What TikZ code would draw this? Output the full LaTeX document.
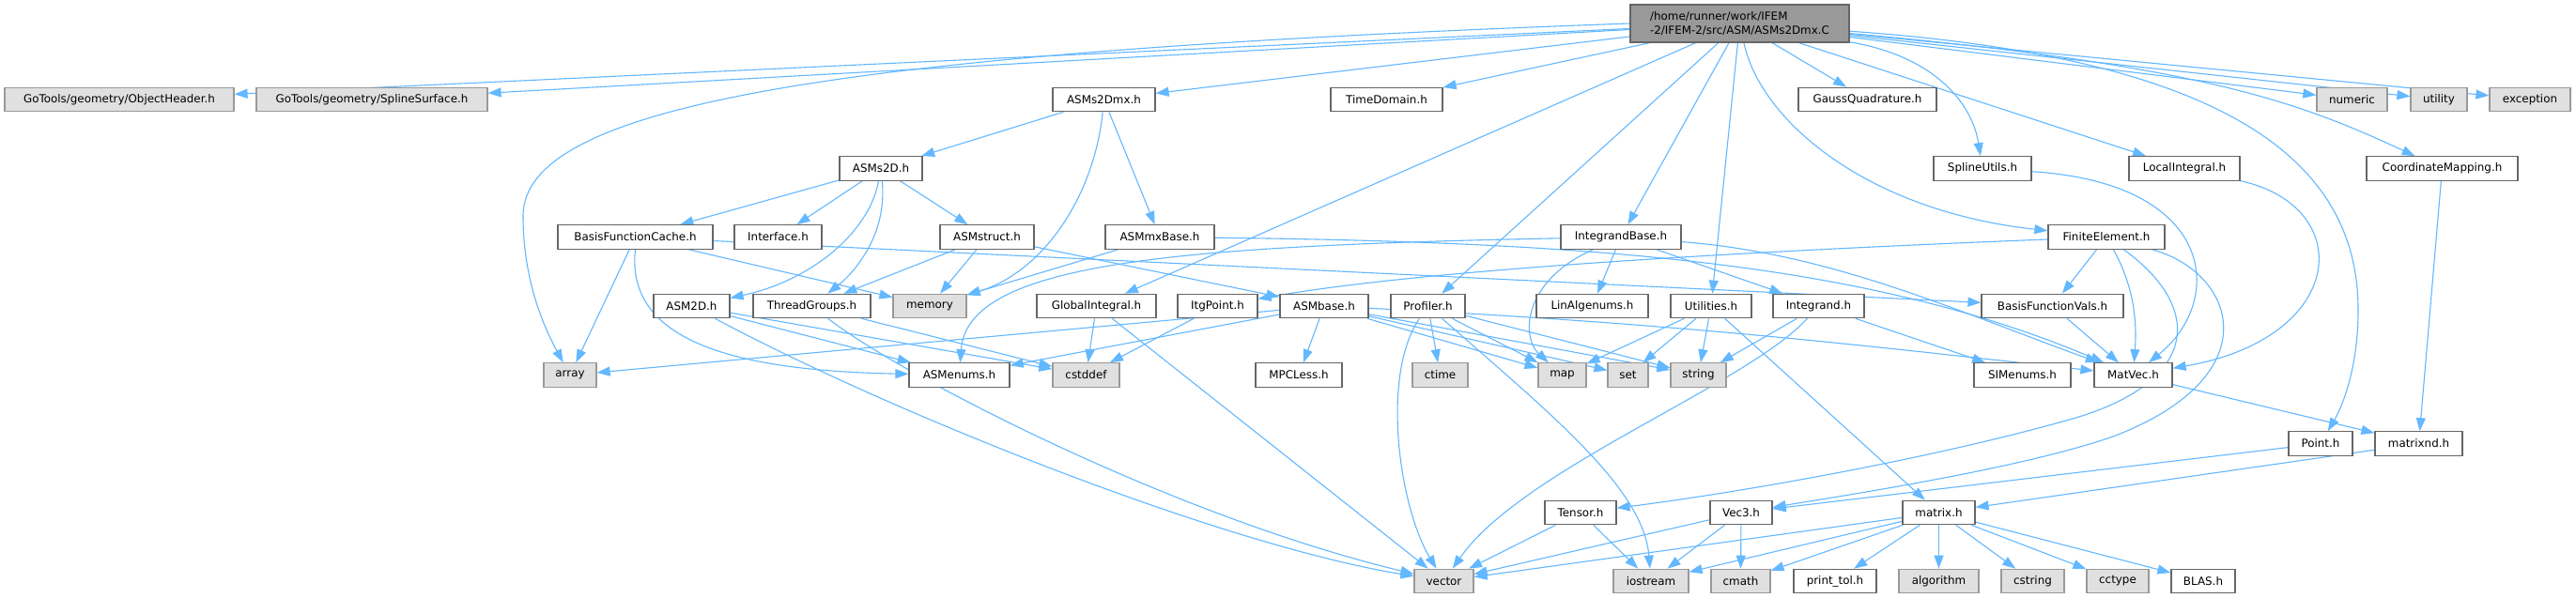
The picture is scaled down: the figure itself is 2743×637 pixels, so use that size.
\documentclass[tikz,border=0pt]{standalone}
\usepackage{fontspec}
\setmainfont{DejaVu Sans}
\usetikzlibrary{arrows.meta}
\definecolor{edgeblue}{RGB}{99,184,255}
\definecolor{boxborder}{RGB}{102,102,102}
\definecolor{grayborder}{RGB}{153,153,153}
\definecolor{grayfill}{RGB}{224,224,224}
\definecolor{rootfill}{RGB}{153,153,153}
\pgfdeclarelayer{edgelayer}
\pgfsetlayers{edgelayer,main}
\begin{document}
\begin{tikzpicture}[x=0.5pt,y=-0.5pt,
  e/.style={draw=edgeblue,line width=0.55pt,-{Triangle[length=7pt,width=5pt]}},
  nb/.style={draw=boxborder,fill=white,line width=0.6pt,minimum height=12.75pt,inner sep=0pt,
     font=\fontsize{5.95pt}{7.4pt}\selectfont},
  ng/.style={nb,draw=grayborder,fill=grayfill}]
\useasboundingbox (0,0) rectangle (2743,637);
% row 0
\node[nb,fill=rootfill,minimum width=116.5pt,minimum height=20pt,align=left] (root) at (1852.5,25) {/home/runner/work/IFEM\\-2/IFEM-2/src/ASM/ASMs2Dmx.C};
% row 1
\node[ng,minimum width=122pt] (objh) at (127,106) {GoTools/geometry/ObjectHeader.h};
\node[ng,minimum width=123pt] (splsurf) at (396,106) {GoTools/geometry/SplineSurface.h};
\node[nb,minimum width=54.5pt] (asms2dmxh) at (1175.5,106) {ASMs2Dmx.h};
\node[nb,minimum width=59.5pt] (timedom) at (1476.5,106) {TimeDomain.h};
\node[nb,minimum width=73.5pt] (gauss) at (1988.5,106) {GaussQuadrature.h};
\node[ng,minimum width=37.5pt] (numeric) at (2504.5,106) {numeric};
\node[ng,minimum width=30pt] (utility) at (2597,106) {utility};
\node[ng,minimum width=43pt] (exception) at (2694,106) {exception};
% row 2
\node[nb,minimum width=44pt] (asms2dh) at (938,179.5) {ASMs2D.h};
\node[nb,minimum width=52pt] (splutils) at (2111,179.5) {SplineUtils.h};
\node[nb,minimum width=59pt] (localint) at (2326,179.5) {LocalIntegral.h};
\node[nb,minimum width=80.5pt] (coordmap) at (2600.5,179.5) {CoordinateMapping.h};
% row 3
\node[nb,minimum width=82.5pt] (bfcache) at (676.5,252.5) {BasisFunctionCache.h};
\node[nb,minimum width=46.5pt] (interface) at (828.5,252.5) {Interface.h};
\node[nb,minimum width=50pt] (asmstruct) at (1051,252.5) {ASMstruct.h};
\node[nb,minimum width=58pt] (asmmxbase) at (1235,252.5) {ASMmxBase.h};
\node[nb,minimum width=64pt] (intbase) at (1726,252.5) {IntegrandBase.h};
\node[nb,minimum width=62pt] (finelem) at (2243,252.5) {FiniteElement.h};
% row 4
\node[nb,minimum width=40.5pt] (asm2d) at (736.5,326) {ASM2D.h};
\node[nb,minimum width=62.5pt] (threadg) at (864.5,326) {ThreadGroups.h};
\node[ng,minimum width=39pt] (memory) at (990,326) {memory};
\node[nb,minimum width=63.5pt] (globint) at (1167.5,326) {GlobalIntegral.h};
\node[nb,minimum width=42.5pt] (itgpoint) at (1296.5,326) {ItgPoint.h};
\node[nb,minimum width=47pt] (asmbase) at (1410,326) {ASMbase.h};
\node[nb,minimum width=39.5pt] (profiler) at (1520.5,326) {Profiler.h};
\node[nb,minimum width=59.5pt] (linalg) at (1695.5,326) {LinAlgenums.h};
\node[nb,minimum width=43pt] (utilities) at (1822,326) {Utilities.h};
\node[nb,minimum width=48.5pt] (integrand) at (1936.5,326) {Integrand.h};
\node[nb,minimum width=75.5pt] (bfvals) at (2185.5,326) {BasisFunctionVals.h};
% row 5
\node[ng,minimum width=28pt] (array) at (607,399.5) {array};
\node[nb,minimum width=53.5pt] (asmenums) at (1021.5,399.5) {ASMenums.h};
\node[ng,minimum width=35.5pt] (cstddef) at (1156.5,399.5) {cstddef};
\node[nb,minimum width=46pt] (mpcless) at (1383,399.5) {MPCLess.h};
\node[ng,minimum width=29.5pt] (ctime) at (1533.5,399.5) {ctime};
\node[ng,minimum width=25.5pt] (map) at (1663.5,399.5) {map};
\node[ng,minimum width=21.5pt] (set) at (1733.5,399.5) {set};
\node[ng,minimum width=29.5pt] (string) at (1808.5,399.5) {string};
\node[nb,minimum width=51.5pt] (simenums) at (2153.5,399.5) {SIMenums.h};
\node[nb,minimum width=41.5pt] (matvec) at (2271.5,399.5) {MatVec.h};
% row 6
\node[nb,minimum width=34pt] (point) at (2471,472.5) {Point.h};
\node[nb,minimum width=46.5pt] (matrixnd) at (2575.5,472.5) {matrixnd.h};
% row 7
\node[nb,minimum width=38pt] (tensor) at (1683,546) {Tensor.h};
\node[nb,minimum width=33pt] (vec3) at (1854,546) {Vec3.h};
\node[nb,minimum width=38.5pt] (matrix) at (2064.5,546) {matrix.h};
% row 8
\node[ng,minimum width=31.5pt] (vector) at (1537.5,619) {vector};
\node[ng,minimum width=40pt] (iostream) at (1758,619) {iostream};
\node[ng,minimum width=31.5pt] (cmath) at (1853.5,619) {cmath};
\node[nb,minimum width=44pt] (printtol) at (1954,619) {print\_tol.h};
\node[ng,minimum width=42.5pt] (algorithm) at (2064.5,619) {algorithm};
\node[ng,minimum width=33.5pt] (cstring) at (2164.5,619) {cstring};
\node[ng,minimum width=33pt] (cctype) at (2255,619) {cctype};
\node[nb,minimum width=34pt] (blas) at (2346,619) {BLAS.h};
\begin{pgfonlayer}{edgelayer}
\fill[white] (0,0) rectangle (2743,637);
% ---- edges from root
\draw[e] (root) -- (objh);
\draw[e] (root) -- (splsurf);
\draw[e] (root.west) .. controls (900,55) and (557,110) .. (557,230) .. controls (557,300) and (580,350) .. (array);
\draw[e] (root) -- (asms2dmxh);
\draw[e] (root) -- (timedom);
\draw[e] (root) -- (globint);
\draw[e] (root) -- (profiler);
\draw[e] (root) -- (intbase);
\draw[e] (root) -- (utilities);
\draw[e] (root) -- (gauss);
\draw[e] (root) .. controls (1875,130) and (1990,225) .. (finelem);
\draw[e] (root) .. controls (2060,60) and (2100,110) .. (splutils);
\draw[e] (root) -- (localint);
\draw[e] (root) .. controls (2350,70) and (2450,110) .. (coordmap);
\draw[e] (root) .. controls (2350,60) and (2511,160) .. (2511,330) .. controls (2511,400) and (2490,440) .. (point);
\draw[e] (root) -- (numeric);
\draw[e] (root) -- (utility);
\draw[e] (root) -- (exception);
% ASMs2Dmx.h
\draw[e] (asms2dmxh) -- (asms2dh);
\draw[e] (asms2dmxh) .. controls (1165,210) and (1110,290) .. (memory);
\draw[e] (asms2dmxh) -- (asmmxbase);
% ASMs2D.h
\draw[e] (asms2dh) -- (bfcache);
\draw[e] (asms2dh) -- (interface);
\draw[e] (asms2dh) -- (asmstruct);
\draw[e] (asms2dh) .. controls (925,250) and (860,300) .. (asm2d);
\draw[e] (asms2dh) .. controls (945,250) and (910,290) .. (threadg);
% BasisFunctionCache.h
\draw[e] (bfcache) -- (array);
\draw[e] (bfcache.south) .. controls (665,370) and (800,395) .. (asmenums);
\draw[e] (bfcache) -- (memory);
\draw[e] (bfcache) -- (bfvals);
% ASMstruct.h
\draw[e] (asmstruct) -- (threadg);
\draw[e] (asmstruct) -- (memory);
\draw[e] (asmstruct) -- (asmbase);
% ASMmxBase.h
\draw[e] (asmmxbase) -- (memory);
\draw[e] (asmmxbase) .. controls (1700,258) and (1990,280) .. (matvec);
% IntegrandBase.h
\draw[e] (intbase) .. controls (1250,262) and (1030,280) .. (asmenums);
\draw[e] (intbase) .. controls (1620,300) and (1620,360) .. (map);
\draw[e] (intbase) -- (linalg);
\draw[e] (intbase) -- (integrand);
\draw[e] (intbase) .. controls (1950,270) and (2080,330) .. (matvec);
% FiniteElement.h
\draw[e] (finelem) .. controls (1800,270) and (1500,290) .. (itgpoint);
\draw[e] (finelem) -- (bfvals);
\draw[e] (finelem) .. controls (2275,310) and (2275,350) .. (matvec);
\draw[e] (finelem) .. controls (2350,330) and (2340,410) .. (2200,448) .. controls (2050,490) and (1850,525) .. (tensor);
\draw[e] (finelem) .. controls (2380,290) and (2420,400) .. (2250,465) .. controls (2150,500) and (1950,530) .. (vec3);
% ASM2D.h
\draw[e] (asm2d) -- (asmenums);
\draw[e] (asm2d) -- (cstddef);
\draw[e] (asm2d) .. controls (950,440) and (1300,580) .. (vector);
% ThreadGroups.h
\draw[e] (threadg) .. controls (960,400) and (1250,550) .. (vector);
\draw[e] (threadg) -- (cstddef);
% GlobalIntegral.h
\draw[e] (globint) -- (cstddef);
\draw[e] (globint) -- (vector);
% ItgPoint.h
\draw[e] (itgpoint) -- (cstddef);
% ASMbase.h
\draw[e] (asmbase) -- (array);
\draw[e] (asmbase) -- (asmenums);
\draw[e] (asmbase) -- (mpcless);
\draw[e] (asmbase) -- (map);
\draw[e] (asmbase) -- (set);
\draw[e] (asmbase) -- (string);
\draw[e] (asmbase) .. controls (1800,345) and (2000,370) .. (matvec);
% Profiler.h
\draw[e] (profiler) -- (ctime);
\draw[e] (profiler) .. controls (1470,400) and (1490,540) .. (vector);
\draw[e] (profiler) -- (map);
\draw[e] (profiler) -- (string);
\draw[e] (profiler) .. controls (1650,440) and (1750,520) .. (iostream);
% Utilities.h
\draw[e] (utilities) -- (map);
\draw[e] (utilities) -- (set);
\draw[e] (utilities) -- (string);
\draw[e] (utilities) -- (matrix);
% Integrand.h
\draw[e] (integrand) -- (string);
\draw[e] (integrand) .. controls (1860,410) and (1620,500) .. (vector);
\draw[e] (integrand) -- (simenums);
% misc
\draw[e] (bfvals) -- (matvec);
\draw[e] (splutils) .. controls (2360,195) and (2370,320) .. (matvec);
\draw[e] (localint) .. controls (2510,220) and (2500,360) .. (matvec);
\draw[e] (coordmap) -- (matrixnd);
\draw[e] (matvec) -- (matrixnd);
\draw[e] (point) -- (vec3);
\draw[e] (matrixnd) -- (matrix);
% Tensor.h
\draw[e] (tensor) -- (vector);
\draw[e] (tensor) -- (iostream);
% Vec3.h
\draw[e] (vec3) -- (vector);
\draw[e] (vec3) -- (iostream);
\draw[e] (vec3) -- (cmath);
% matrix.h
\draw[e] (matrix) -- (vector);
\draw[e] (matrix) -- (iostream);
\draw[e] (matrix) -- (cmath);
\draw[e] (matrix) -- (printtol);
\draw[e] (matrix) -- (algorithm);
\draw[e] (matrix) -- (cstring);
\draw[e] (matrix) -- (cctype);
\draw[e] (matrix) -- (blas);
\end{pgfonlayer}
\end{tikzpicture}
\end{document}
